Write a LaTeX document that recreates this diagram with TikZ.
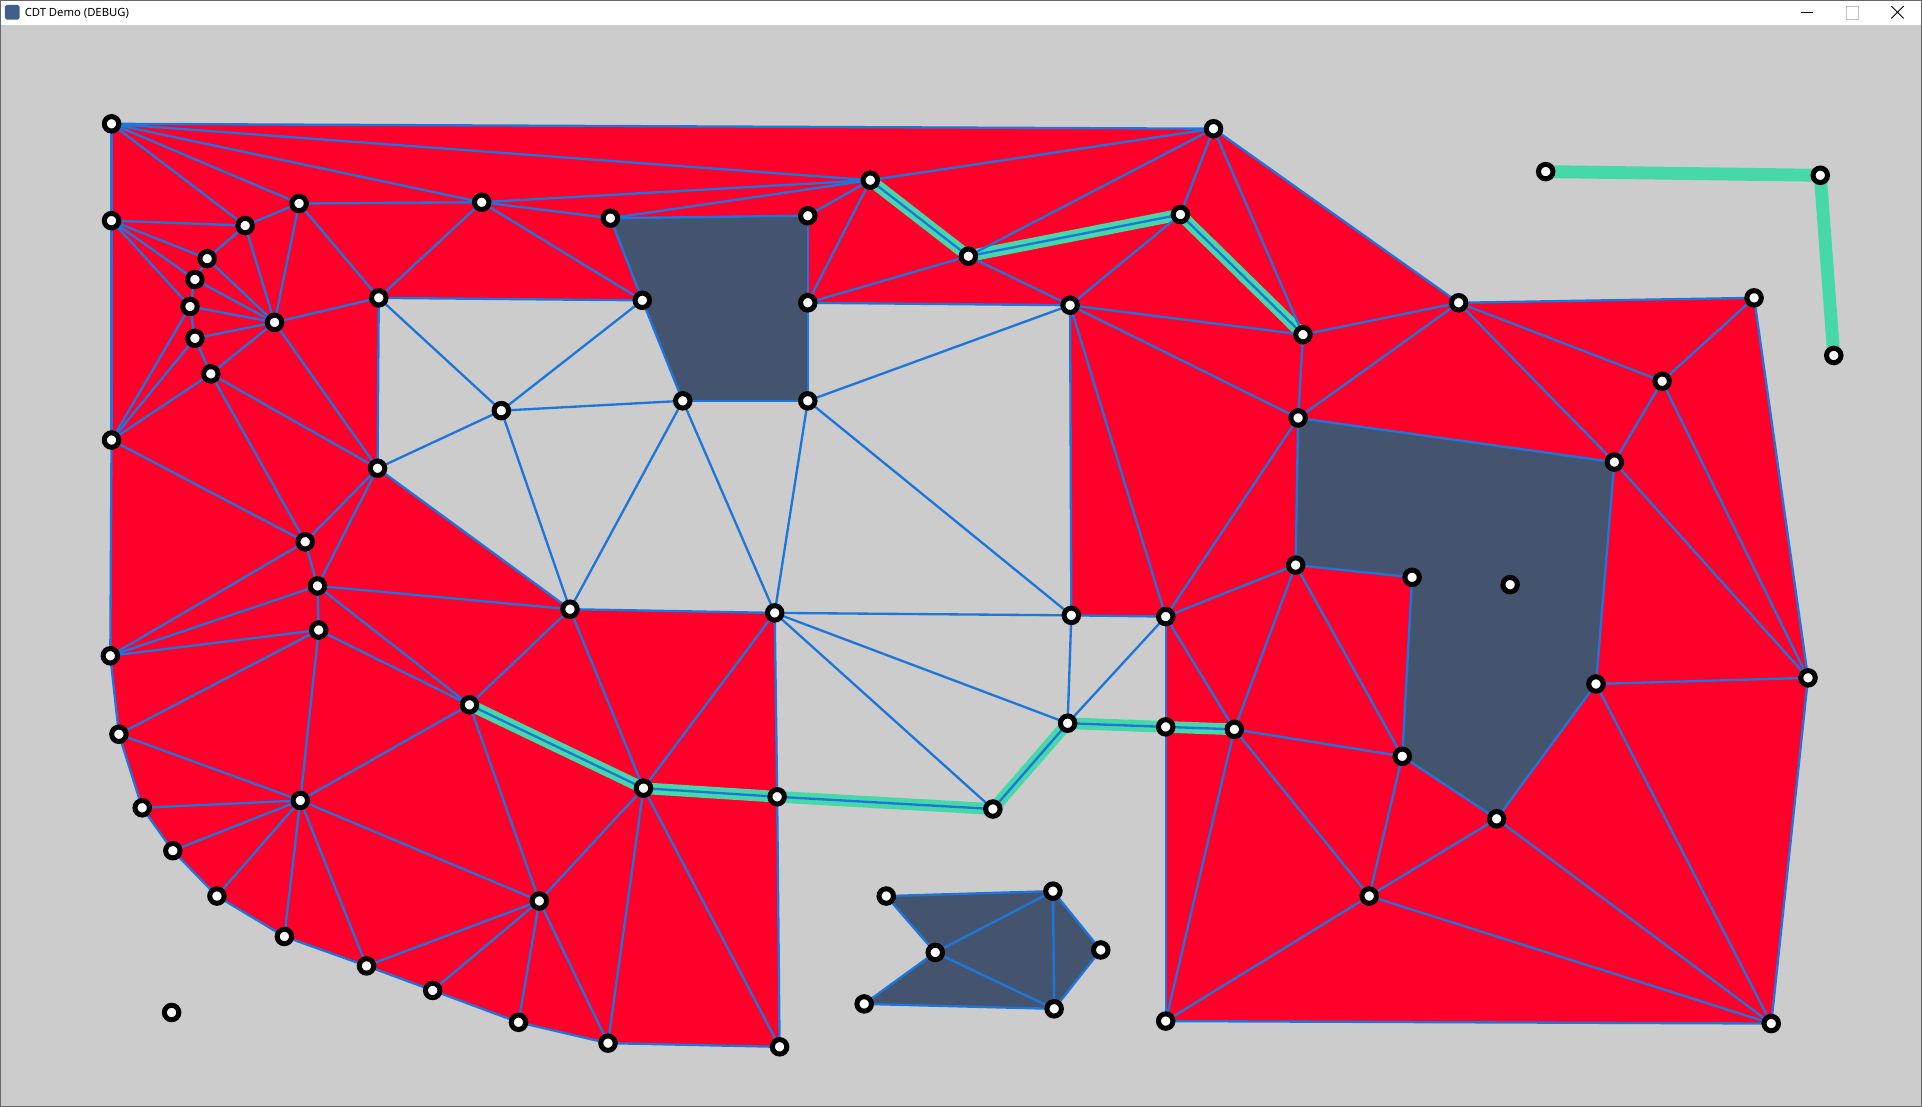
\documentclass[tikz,border=0pt]{standalone}
\usepackage{fontspec}
\setmainfont{Noto Sans}
\usepackage{xcolor}
\definecolor{cdtred}{RGB}{255,0,42}
\definecolor{cdtblue}{RGB}{28,118,220}
\definecolor{cdthole}{RGB}{69,84,110}
\definecolor{cdtgreen}{RGB}{70,216,168}
\definecolor{cdtbg}{RGB}{204,204,204}
\definecolor{cdticon}{RGB}{62,96,138}

\tikzset{
edge/.style={cdtblue, line width=1.9pt},
fixed/.style={cdtgreen, line width=9.5pt, line join=round},
vert/.style={draw=black, fill=white, line width=4.1pt},
hole/.style={fill=cdthole},
}

\begin{document}
\begin{tikzpicture}[x=1pt,y=-1pt]
\useasboundingbox (0,0) rectangle (1568,903);
\fill[cdtbg] (0,0) rectangle (1568,903);
\fill[white] (0,0) rectangle (1568,20.5);

\fill[cdticon, rounded corners=1.5pt] (4,4) rectangle (16,16);
\node[anchor=west, inner sep=0pt, font=\fontsize{9.2}{11}\selectfont] (title) at (20,10.5) {CDT Demo (DEBUG)};
\draw[black, line width=0.8pt] (1469,10.5) -- (1479,10.5);
\draw[black!25, line width=0.8pt] (1506,5.5) rectangle (1516,15.5);
\draw[black, line width=0.8pt] (1543,5) -- (1553,15) (1543,15) -- (1553,5);

\foreach \n/\x/\y in {1/91/101, 2/990/105, 3/710/147, 4/91/180, 5/200/184,
6/244/166, 7/393/165, 8/498/178, 9/659/176, 10/790/209, 11/963/175,
12/169/211, 13/159/228, 14/155/250, 15/224/263, 16/159/276, 17/172/305,
18/309/243, 19/524/245, 20/659/247, 21/873/249, 22/1063/273, 23/1190/247,
24/1431/243, 25/1356/311, 26/91/359, 27/409/335, 28/557/327, 29/659/327,
30/1059/341, 31/1317/377, 32/308/382, 33/249/442, 34/259/478, 35/260/514,
36/90/535, 37/465/497, 38/632/500, 39/874/502, 40/951/503, 41/1057/461,
42/1152/471, 43/1232/477, 44/1475/553, 45/1302/558, 46/97/599, 47/383/575,
48/871/590, 49/951/593, 50/1007/595, 51/1144/617, 52/116/659, 53/245/653,
54/525/643, 55/634/650, 56/810/660, 57/1221/668, 58/141/694, 59/177/731,
60/440/735, 61/723/731, 62/859/727, 63/1117/731, 64/232/764, 65/763/777,
66/898/775, 67/299/788, 68/353/808, 69/705/819, 70/860/823, 71/423/834,
72/496/851, 73/636/854, 74/951/833, 75/1445/835, 76/140/826, 77/1261/140,
78/1485/143, 79/1496/290}
\coordinate (p\n) at (\x,\y);

\fill[cdtred] (p1) -- (p2) -- (p23) -- (p24) -- (p44) -- (p75) -- (p74)
-- (p49) -- (p40) -- (p39) -- (p21) -- (p20) -- (p19) -- (p18) -- (p32)
-- (p37) -- (p38) -- (p55) -- (p73) -- (p72) -- (p71) -- (p68) -- (p67)
-- (p64) -- (p59) -- (p58) -- (p52) -- (p46) -- (p36) -- (p26) -- (p4) -- cycle;

\fill[hole] (p8) -- (p9) -- (p20) -- (p29) -- (p28) -- (p19) -- cycle;
\fill[hole] (p30) -- (p31) -- (p45) -- (p57) -- (p51) -- (p42) -- (p41) -- cycle;
\fill[hole] (p61) -- (p62) -- (p66) -- (p70) -- (p69) -- (p65) -- cycle;

\draw[fixed] (p3) -- (p10) -- (p11) -- (p22);
\draw[fixed] (p47) -- (p54) -- (p55) -- (p56) -- (p48) -- (p49) -- (p50);
\draw[fixed, line width=10.5pt] (p77) -- (p78) -- (p79);

\foreach \a/\b in {1/2,1/3,1/7,1/6,1/5,1/4,
4/5,4/12,4/13,4/14,4/26,5/6,5/12,5/15,6/7,6/15,6/18,
7/3,7/8,7/19,7/18,12/13,12/15,13/14,13/15,14/15,14/16,14/26,
16/15,16/17,16/26,17/15,17/26,17/33,17/32,15/18,15/32,18/32,18/19,18/27,
26/33,26/36,33/32,33/34,33/36,32/34,32/37,32/27,
34/35,34/36,34/37,34/47,35/36,35/46,35/47,35/53,
36/46,46/53,46/52,52/53,52/58,58/53,58/59,59/53,59/64,64/53,64/67,
67/53,67/60,67/68,68/60,68/71,71/60,71/72,72/60,72/54,72/73,73/54,73/55,
53/47,53/60,47/60,47/37,47/54,37/38,37/54,37/27,54/38,54/55,54/60,38/55,
19/27,19/28,27/28,28/37,28/38,28/29,29/38,29/39,29/21,29/20,20/21,21/39,
38/39,38/48,38/56,39/48,48/56,48/49,48/40,39/40,40/49,49/50,55/56,
8/9,8/19,9/20,8/3,9/3,3/20,3/2,3/10,10/20,10/2,10/11,10/21,2/11,2/22,2/23,
11/21,11/22,21/22,21/30,21/40,22/23,22/30,23/30,23/24,23/25,23/31,
24/25,24/44,25/31,25/44,31/44,31/30,31/45,45/44,45/57,45/75,57/51,51/42,
42/41,41/30,41/51,30/40,40/41,40/50,41/50,50/51,50/63,50/74,51/63,57/63,
57/75,63/74,63/75,74/75,44/75,49/74,
61/62,62/66,66/70,70/69,69/65,65/61,65/62,65/70,62/70}
\draw[edge] (p\a) -- (p\b);

\foreach \n in {1,...,79}
\draw[vert] (p\n) circle[radius=5.9];

\draw[black!60, line width=0.8pt] (0.4,0.4) rectangle (1567.6,902.6);
\end{tikzpicture}
\end{document}
